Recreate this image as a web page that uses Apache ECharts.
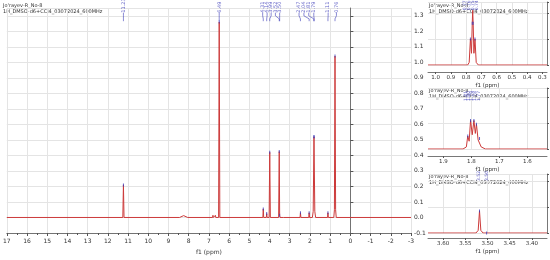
<!DOCTYPE html>
<html>
<head>
<meta charset="utf-8">
<script src="https://cdn.jsdelivr.net/npm/echarts@6/dist/echarts.min.js"></script>
<style>
  html, body { margin: 0; padding: 0; background: #fff; }
  #chart { width: 550px; height: 260px; }
</style>
</head>
<body>
<div id="chart"></div>
<script>
// full 1H spectrum, f1 (ppm) / intensity
const mainPpm = [17, 11.26, 11.23, 11.2, 8.45, 8.25, 8.05, 6.82, 6.80, 6.78, 6.70, 6.68, 6.66,
  6.52, 6.49, 6.46, 4.33, 4.31, 4.29, 4.16, 4.14, 4.12, 4.02, 3.99, 3.96, 3.55, 3.52, 3.50, 3.48,
  3.30, 3.28, 3.26, 2.49, 2.47, 2.45, 2.06, 2.04, 2.02, 1.88, 1.84, 1.80, 1.76, 1.72,
  1.13, 1.11, 1.09, 0.82, 0.79, 0.76, 0.73, 0.70, -3];
const mainInt = [0, 0, 0.21, 0, 0, 0.012, 0, 0, 0.014, 0, 0, 0.014, 0,
  0, 1.26, 0, 0, 0.055, 0, 0, 0.025, 0, 0, 0.42, 0, 0, 0.425, 0.015, 0,
  0, 0.012, 0, 0, 0.03, 0, 0, 0.03, 0, 0, 0.04, 0.52, 0.04, 0,
  0, 0.03, 0, 0, 0.05, 1.04, 0.05, 0, 0];

// peak picking on the full spectrum
const mainLabels = ['11.23', '6.49', '4.31', '4.14', '3.99', '3.52', '3.50', '2.47', '2.04', '1.81', '1.79', '1.11', '0.76'];
const mainPeakPpm = [11.23, 6.49, 4.31, 4.14, 3.99, 3.52, 3.50, 2.47, 2.04, 1.81, 1.79, 1.11, 0.76];
const mainPeakInt = [0.21, 1.26, 0.055, 0.025, 0.42, 0.425, 0.015, 0.03, 0.03, 0.52, 0.52, 0.03, 1.04];
const mainLabelPpm = [11.23, 6.49, 4.34, 4.12, 3.92, 3.71, 3.50, 2.54, 2.30, 2.06, 1.81, 1.10, 0.69];

// inset 1: 0.76 ppm
const in1Ppm = [1.05, 0.79, 0.78, 0.772, 0.765, 0.76, 0.757, 0.754, 0.749, 0.742, 0.734, 0.72, 0.27];
const in1Int = [0, 0, 0.1, 1.0, 0.45, 1.6, 2.1, 1.6, 0.45, 1.0, 0.1, 0, 0];
const in1Labels = ['0.77', '0.76', '0.75', '0.74'];
const in1PeakPpm = [0.772, 0.760, 0.754, 0.742];
const in1PeakInt = [1.0, 1.6, 1.6, 1.0];
const in1LabelPpm = [0.810, 0.784, 0.757, 0.731];

// inset 2: 1.80 ppm
const in2Ppm = [1.955, 1.83, 1.818, 1.813, 1.808, 1.803, 1.797, 1.791, 1.786, 1.782, 1.776, 1.771, 1.765, 1.75, 1.53];
const in2Int = [0, 0, 0.08, 0.5, 0.3, 1.1, 0.55, 1.1, 0.6, 0.95, 0.35, 0.4, 0.08, 0, 0];
const in2Labels = ['1.81', '1.80', '1.79', '1.78', '1.77'];
const in2PeakPpm = [1.813, 1.803, 1.791, 1.782, 1.771];
const in2PeakInt = [0.5, 1.1, 1.1, 0.95, 0.4];
const in2LabelPpm = [1.821, 1.809, 1.798, 1.786, 1.775];

// inset 3: 3.52 ppm
const in3Ppm = [3.634, 3.526, 3.521, 3.518, 3.515, 3.51, 3.366];
const in3Int = [0, 0, 0.1, 0.85, 0.1, 0, 0];
const in3Labels = ['3.52', '3.50'];
const in3PeakPpm = [3.518, 3.502];
const in3PeakInt = [0.85, 0];
const in3LabelPpm = [3.520, 3.502];

const red = '#cc3a3a';
const blue = '#3a3ab8';
const gridColor = '#e4e4e4';
const axisColor = '#555';
const font = 'DejaVu Sans';
const header1 = "Jo'rayev-R_No-8";
const header2 = '1H_DMSO-d6+CCl4_03072024_600MHz';

const pairs = (xs, ys) => xs.map((x, i) => [x, ys[i]]);

function labelSeries(ax, labels, pos, yTop, size) {
  return {
    type: 'scatter', xAxisIndex: ax, yAxisIndex: ax, symbolSize: 0, silent: true,
    data: pos.map((p, i) => ({ value: [p, yTop], name: labels[i] })),
    label: {
      show: true, position: 'inside', rotate: 90, align: 'left', verticalAlign: 'middle',
      formatter: (d) => d.name, color: blue, fontSize: size, fontFamily: font
    },
    z: 5
  };
}

function markerSeries(ax, ppm, ints) {
  return {
    type: 'scatter', xAxisIndex: ax, yAxisIndex: ax, symbol: 'rect', symbolSize: [1, 3],
    itemStyle: { color: blue }, silent: true, data: pairs(ppm, ints), z: 4
  };
}

function linkSeries(ax, peakPpm, labelPpm, y0, y1, y2, y3) {
  return {
    type: 'lines', coordinateSystem: 'cartesian2d', xAxisIndex: ax, yAxisIndex: ax,
    polyline: true, silent: true,
    lineStyle: { color: blue, width: 0.6, opacity: 1 },
    data: peakPpm.map((p, i) => ({ coords: [[labelPpm[i], y0], [labelPpm[i], y1], [p, y2], [p, y3]] })),
    z: 4
  };
}

function insetX(idx, min, max, offset, digits) {
  return {
    gridIndex: idx, type: 'value', inverse: true, min: min, max: max, splitNumber: idx === 1 ? 8 : 5,
    offset: offset,
    name: 'f1 (ppm)', nameLocation: 'middle', nameGap: 11,
    nameTextStyle: { fontSize: 5.5, color: '#333', fontFamily: font },
    axisLine: { show: true, onZero: false, lineStyle: { color: axisColor, width: 0.8 } },
    axisTick: { show: true, length: 2, lineStyle: { color: axisColor } },
    axisLabel: {
      fontSize: 5.5, color: '#333', margin: 3, fontFamily: font,
      showMinLabel: false, showMaxLabel: false, formatter: (v) => v.toFixed(digits)
    },
    splitLine: { show: true, showMinLine: false, showMaxLine: false, lineStyle: { color: gridColor, width: 1 } }
  };
}

function insetY(idx, max) {
  return {
    gridIndex: idx, type: 'value', position: 'right', min: 0, max: max, interval: 1,
    axisLine: { show: true, lineStyle: { color: axisColor, width: 0.8 } },
    axisTick: { show: true, length: 2, lineStyle: { color: axisColor } },
    axisLabel: { show: false },
    splitLine: { show: true, lineStyle: { color: gridColor, width: 1 } }
  };
}

function headerText(x, y) {
  return [
    { type: 'text', left: x, top: y, style: { text: header1, fontSize: 5, fill: '#333', fontFamily: font } },
    { type: 'text', left: x, top: y + 6, style: { text: header2, fontSize: 5, fill: '#333', fontFamily: font } }
  ];
}

const chart = echarts.init(document.getElementById('chart'), null, { renderer: 'canvas' });

chart.setOption({
  animation: false,
  backgroundColor: '#fff',
  textStyle: { fontFamily: font },
  grid: [
    { left: 3, right: 139, top: 8, bottom: 21 },
    { left: 428, right: 3, top: 2, height: 63 },
    { left: 428, right: 3, top: 88, height: 61 },
    { left: 428, right: 3, top: 174, height: 59 }
  ],
  xAxis: [
    {
      gridIndex: 0, type: 'value', inverse: true, min: -3, max: 17, interval: 1,
      name: 'f1 (ppm)', nameLocation: 'middle', nameGap: 16,
      nameTextStyle: { fontSize: 6, color: '#333', fontFamily: font },
      axisLine: { show: true, onZero: false, lineStyle: { color: axisColor, width: 0.8 } },
      axisTick: { show: true, length: 3, lineStyle: { color: axisColor } },
      minorTick: { show: true, splitNumber: 2, length: 2, lineStyle: { color: axisColor } },
      axisLabel: { fontSize: 6, color: '#333', margin: 5, fontFamily: font },
      splitLine: { show: true, lineStyle: { color: gridColor, width: 1 } }
    },
    insetX(1, 0.27, 1.05, 7, 1),
    insetX(2, 1.53, 1.955, 7, 1),
    insetX(3, 3.366, 3.634, 5, 2)
  ],
  yAxis: [
    {
      gridIndex: 0, type: 'value', position: 'right', min: -0.1, max: 1.35, interval: 0.1,
      axisLine: { show: true, lineStyle: { color: axisColor, width: 0.8 } },
      axisTick: { show: true, length: 3, lineStyle: { color: axisColor } },
      axisLabel: {
        fontSize: 6, color: '#333', margin: 3, fontFamily: font, showMaxLabel: false,
        formatter: (v) => v.toFixed(1)
      },
      splitLine: { show: true, lineStyle: { color: gridColor, width: 1 } }
    },
    insetY(1, 2.42),
    insetY(2, 2.35),
    insetY(3, 2.27)
  ],
  graphic: [
    ...headerText(3, 3),
    ...headerText(429, 3),
    ...headerText(429, 88),
    ...headerText(429, 174)
  ],
  series: [
    {
      type: 'line', xAxisIndex: 0, yAxisIndex: 0, data: pairs(mainPpm, mainInt),
      symbol: 'none', lineStyle: { color: red, width: 1 }, z: 3
    },
    labelSeries(0, mainLabels, mainLabelPpm, 1.32, 5),
    linkSeries(0, mainPeakPpm, mainLabelPpm, 1.32, 1.30, 1.28, 1.265),
    markerSeries(0, mainPeakPpm, mainPeakInt),

    {
      type: 'line', xAxisIndex: 1, yAxisIndex: 1, data: pairs(in1Ppm, in1Int),
      symbol: 'none', lineStyle: { color: red, width: 1 }, z: 3
    },
    labelSeries(1, in1Labels, in1LabelPpm, 2.1, 4.5),
    markerSeries(1, in1PeakPpm, in1PeakInt),

    {
      type: 'line', xAxisIndex: 2, yAxisIndex: 2, data: pairs(in2Ppm, in2Int),
      symbol: 'none', lineStyle: { color: red, width: 1 }, z: 3
    },
    labelSeries(2, in2Labels, in2LabelPpm, 1.85, 4.5),
    markerSeries(2, in2PeakPpm, in2PeakInt),

    {
      type: 'line', xAxisIndex: 3, yAxisIndex: 3, data: pairs(in3Ppm, in3Int),
      symbol: 'none', lineStyle: { color: red, width: 1 }, z: 3
    },
    labelSeries(3, in3Labels, in3LabelPpm, 2.0, 4.5),
    markerSeries(3, in3PeakPpm, in3PeakInt)
  ]
});
</script>
</body>
</html>
